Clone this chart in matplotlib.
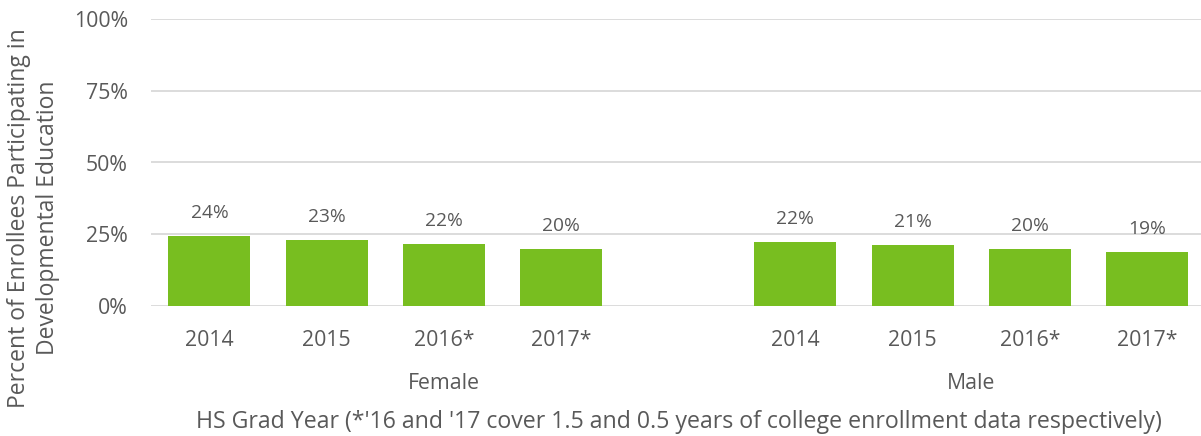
import matplotlib
matplotlib.use("Agg")
import matplotlib.pyplot as plt
import matplotlib.transforms as mtransforms

plt.rcParams['font.family'] = ['Open Sans', 'DejaVu Sans']

groups = ["Female", "Male"]
years = ["2014", "2015", "2016*", "2017*"]
female_values = [24.3, 22.9, 21.5, 19.9]
male_values = [22.3, 21.3, 19.8, 18.8]
female_labels = ["24%", "23%", "22%", "20%"]
male_labels = ["22%", "21%", "20%", "19%"]
y_ticks = [0, 25, 50, 75, 100]
y_tick_labels = ["0%", "25%", "50%", "75%", "100%"]

GREEN = '#78BE20'
TEXT = '#595959'
GRID = '#D9D9D9'

fig = plt.figure(figsize=(12.01, 4.36), dpi=100)
ax = fig.add_axes([150.8 / 1201, 130 / 436, (1205.6 - 150.8) / 1201, 287 / 436])

series = [female_values, male_values]
labels = [female_labels, male_labels]
positions_all = []
tick_labels_all = []
trans = mtransforms.blended_transform_factory(ax.transData, fig.transFigure)
for g, (vals, labs) in enumerate(zip(series, labels)):
    xs = [g * (len(years) + 1) + i for i in range(len(years))]
    ax.bar(xs, vals, width=0.7, color=GREEN, zorder=3)
    for x, v, lab in zip(xs, vals, labs):
        ax.annotate(lab, (x, v), xytext=(0, 16.5), textcoords='offset points',
                    ha='center', va='center', fontsize=13.8, color=TEXT)
    positions_all += xs
    tick_labels_all += years
    if g == 0:
        center = (-0.5 + (len(years) + 0.5)) / 2
    else:
        start = g * (len(years) + 1) - 0.5
        center = (start + start + len(years)) / 2
    ax.text(center, 1 - 383 / 436, groups[g], transform=trans, ha='center',
            va='center', fontsize=15.3, color=TEXT)

ax.set_xlim(-0.5, 2 * (len(years) + 1) - 1.5)
ax.set_ylim(0, 100)
ax.set_yticks(y_ticks)
ax.set_yticklabels(y_tick_labels, fontsize=15.3, color=TEXT)
ax.set_xticks(positions_all)
ax.set_xticklabels(tick_labels_all, fontsize=15.3, color=TEXT)
ax.tick_params(axis='both', length=0)
ax.tick_params(axis='y', pad=16.5)
ax.tick_params(axis='x', pad=17)
ax.grid(axis='y', color=GRID, linewidth=1.3, zorder=0)
for s in ax.spines.values():
    s.set_visible(False)

fig.text(33.5 / 1201, 1 - 218 / 436,
         "Percent of Enrollees Participating in\nDevelopmental Education",
         rotation=90, ha='center', va='center', fontsize=16.5, color=TEXT,
         multialignment='center', linespacing=1.33, transform=fig.transFigure)
fig.text(679 / 1201, 1 - 422 / 436,
         "HS Grad Year (*'16 and '17 cover 1.5 and 0.5 years of college enrollment data respectively)",
         ha='center', va='center', fontsize=16.7, color=TEXT)

fig.savefig("out.png", dpi=100)
